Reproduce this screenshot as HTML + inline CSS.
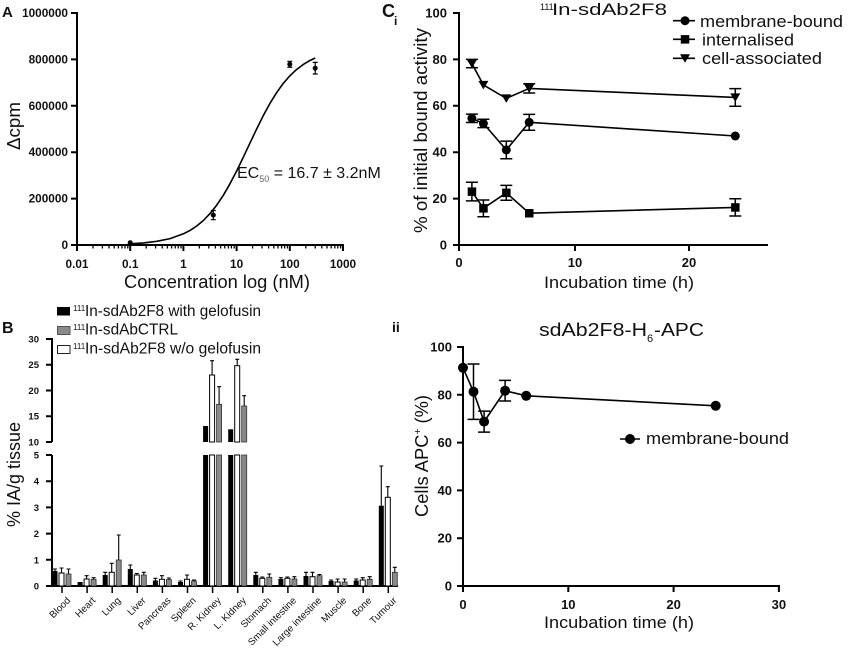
<!DOCTYPE html>
<html><head><meta charset="utf-8"><style>
html,body{margin:0;padding:0;background:#fff}
svg{display:block}
text{font-family:"Liberation Sans",Arial,sans-serif;fill:#111}
.b{font-weight:bold}
</style></head><body>
<svg width="853" height="650" viewBox="0 0 853 650" xmlns="http://www.w3.org/2000/svg">
<rect width="853" height="650" fill="#fff"/>

<!-- ============ PANEL A ============ -->
<text x="2" y="17" class="b" font-size="15">A</text>
<g stroke="#000" fill="none">
  <path stroke-width="2" d="M77,12V246M76,245H344"/>
  <path stroke-width="2" d="M71,245H77M71,198.6H77M71,152.2H77M71,105.8H77M71,59.4H77M71,13H77"/>
  <path stroke-width="2" d="M77,245V251M130.2,245V251M183.4,245V251M236.6,245V251M289.8,245V251M343,245V251"/>
  <path stroke-width="1.3" d="M93,245V248.5M102.4,245V248.5M109,245V248.5M114.2,245V248.5M118.4,245V248.5M122,245V248.5M125,245V248.5M127.8,245V248.5
  M146.2,245V248.5M155.6,245V248.5M162.2,245V248.5M167.4,245V248.5M171.6,245V248.5M175.2,245V248.5M178.2,245V248.5M181,245V248.5
  M199.4,245V248.5M208.8,245V248.5M215.4,245V248.5M220.6,245V248.5M224.8,245V248.5M228.4,245V248.5M231.4,245V248.5M234.2,245V248.5
  M252.6,245V248.5M262,245V248.5M268.6,245V248.5M273.8,245V248.5M278,245V248.5M281.6,245V248.5M284.6,245V248.5M287.4,245V248.5
  M305.8,245V248.5M315.2,245V248.5M321.8,245V248.5M327,245V248.5M331.2,245V248.5M334.8,245V248.5M337.8,245V248.5M340.6,245V248.5"/>
  <!-- curve -->
  <path stroke-width="1.6" stroke-linejoin="round" d="M130.2,243.8L143.5,242.9L156.8,241.3L170.1,238.6L183.4,233.8L190.05,230.4L196.7,226L203.35,220.5L210,213.6L216.65,205.2L223.3,195.3L229.95,183.8L236.6,171.1L243.25,157.3L249.9,143.2L256.55,129.2L263.2,115.8L269.85,103.6L276.5,92.8L283.15,83.5L289.8,75.9L296.45,69.6L303.1,64.6L309.75,60.6L315.2,58"/>
  <!-- error bars -->
  <path stroke-width="1.2" d="M213.3,210.5V219.7M210.8,210.5H215.8M210.8,219.7H215.8M289.8,61.3V67.3M287.3,61.3H292.3M287.3,67.3H292.3M315.2,62.4V74M312.7,62.4H317.7M312.7,74H317.7"/>
</g>
<g fill="#000">
  <circle cx="130.2" cy="242.7" r="2.5"/>
  <circle cx="213.3" cy="215.1" r="2.5"/>
  <circle cx="289.8" cy="64.3" r="2.5"/>
  <circle cx="315.2" cy="68.2" r="2.5"/>
</g>
<g class="b" font-size="11.8" text-anchor="end">
  <text x="68" y="249">0</text>
  <text x="68" y="202.6">200000</text>
  <text x="68" y="156.2">400000</text>
  <text x="68" y="109.8">600000</text>
  <text x="68" y="63.4">800000</text>
  <text x="68" y="17">1000000</text>
</g>
<g class="b" font-size="11.8" text-anchor="middle">
  <text x="77" y="268">0.01</text>
  <text x="130.2" y="268">0.1</text>
  <text x="183.4" y="268">1</text>
  <text x="236.6" y="268">10</text>
  <text x="289.8" y="268">100</text>
  <text x="343" y="268">1000</text>
</g>
<text x="124" y="288" font-size="18" textLength="186" lengthAdjust="spacingAndGlyphs">Concentration log (nM)</text>
<text transform="translate(20,126) rotate(-90)" text-anchor="middle" font-size="18" textLength="48" lengthAdjust="spacingAndGlyphs">Δcpm</text>
<text x="237" y="178" font-size="16">EC<tspan font-size="9" fill="#666" dy="4">50</tspan><tspan dy="-4"> = 16.7 ± 3.2nM</tspan></text>

<!-- ============ PANEL Ci ============ -->
<text x="382" y="17" class="b" font-size="18">C</text>
<text x="394" y="25" class="b" font-size="12">i</text>
<g stroke="#000" fill="none">
  <path stroke-width="2" d="M459,12V246M458,245H768"/>
  <path stroke-width="2" d="M453,245H459M453,198.6H459M453,152.2H459M453,105.8H459M453,59.4H459M453,13H459"/>
  <path stroke-width="2" d="M459,245V251M575,245V251M689,245V251"/>
  <!-- lines -->
  <path stroke-width="1.6" d="M471.9,63.6L483.4,84.9L506.3,98.4L529.2,88.4L735.3,97.4"/>
  <path stroke-width="1.6" d="M471.9,118.3L483.4,123.4L506.3,149.9L529.2,122.3L735.3,136"/>
  <path stroke-width="1.6" d="M471.9,191.6L483.4,208.3L506.3,192.8L529.2,213.2L735.3,207.4"/>
  <!-- error bars -->
  <path stroke-width="1.5" d="M471.9,59.4V67.8M465.9,59.4H477.9M465.9,67.8H477.9
  M529.2,83.8V93M523.2,83.8H535.2M523.2,93H535.2
  M735.3,88.6V106.2M729.3,88.6H741.3M729.3,106.2H741.3
  M471.9,114.1V122.5M465.9,114.1H477.9M465.9,122.5H477.9
  M483.4,119.2V127.6M477.4,119.2H489.4M477.4,127.6H489.4
  M506.3,141.1V158.7M500.3,141.1H512.3M500.3,158.7H512.3
  M529.2,114.4V130.2M523.2,114.4H535.2M523.2,130.2H535.2
  M471.9,182.3V200.9M465.9,182.3H477.9M465.9,200.9H477.9
  M483.4,200V216.7M477.4,200H489.4M477.4,216.7H489.4
  M506.3,185.4V200.2M500.3,185.4H512.3M500.3,200.2H512.3
  M735.3,198.8V216M729.3,198.8H741.3M729.3,216H741.3"/>
  <!-- legend lines -->
  <path stroke-width="1.6" d="M673,20.7H695M673,39.3H695M673,58.3H695"/>
</g>
<g fill="#000">
  <path d="M466.9,59.6H476.9L471.9,68.1Z"/>
  <path d="M478.4,80.9H488.4L483.4,89.4Z"/>
  <path d="M501.3,94.4H511.3L506.3,102.9Z"/>
  <path d="M524.2,84.4H534.2L529.2,92.9Z"/>
  <path d="M730.3,93.4H740.3L735.3,101.9Z"/>
  <path d="M680,54.3H690L685,62.8Z"/>
  <circle cx="471.9" cy="118.3" r="4.5"/>
  <circle cx="483.4" cy="123.4" r="4.5"/>
  <circle cx="506.3" cy="149.9" r="4.5"/>
  <circle cx="529.2" cy="122.3" r="4.5"/>
  <circle cx="735.3" cy="136" r="4.5"/>
  <circle cx="685" cy="20.7" r="4.5"/>
  <rect x="467.7" y="187.4" width="8.5" height="8.5"/>
  <rect x="479.2" y="204.1" width="8.5" height="8.5"/>
  <rect x="502.1" y="188.6" width="8.5" height="8.5"/>
  <rect x="525" y="209" width="8.5" height="8.5"/>
  <rect x="731.1" y="203.2" width="8.5" height="8.5"/>
  <rect x="680.8" y="35.1" width="8.5" height="8.5"/>
</g>
<g class="b" font-size="13" text-anchor="end">
  <text x="447" y="249.5">0</text>
  <text x="447" y="203">20</text>
  <text x="447" y="156.6">40</text>
  <text x="447" y="110.2">60</text>
  <text x="447" y="63.8">80</text>
  <text x="447" y="17.5">100</text>
</g>
<g class="b" font-size="13" text-anchor="middle">
  <text x="459" y="267">0</text>
  <text x="575" y="267">10</text>
  <text x="689" y="267">20</text>
</g>
<text x="540" y="10" font-size="9">111</text>
<text x="552" y="15" font-size="17" textLength="115" lengthAdjust="spacingAndGlyphs">In-sdAb2F8</text>
<text x="700" y="27" font-size="17" textLength="143" lengthAdjust="spacingAndGlyphs">membrane-bound</text>
<text x="702" y="45.5" font-size="17" textLength="92" lengthAdjust="spacingAndGlyphs">internalised</text>
<text x="702" y="64" font-size="17" textLength="120" lengthAdjust="spacingAndGlyphs">cell-associated</text>
<text transform="translate(427,130.5) rotate(-90)" text-anchor="middle" font-size="18" textLength="205" lengthAdjust="spacingAndGlyphs">% of initial bound activity</text>
<text x="544" y="288" font-size="17" textLength="150" lengthAdjust="spacingAndGlyphs">Incubation time (h)</text>

<!-- ============ PANEL B ============ -->
<text x="2" y="333" class="b" font-size="16">B</text>
<rect x="57" y="307" width="13" height="8.5" fill="#000"/>
<rect x="57.5" y="326.5" width="12.5" height="8" fill="#8a8a8a" stroke="#555" stroke-width="1"/>
<rect x="57.5" y="345.5" width="12.5" height="8" fill="#fff" stroke="#222" stroke-width="1"/>
<text x="73" y="311" font-size="8">111</text>
<text x="85" y="316" font-size="15.5" textLength="176" lengthAdjust="spacingAndGlyphs">In-sdAb2F8 with gelofusin</text>
<text x="73" y="330" font-size="8">111</text>
<text x="85" y="334.5" font-size="15.5" textLength="93" lengthAdjust="spacingAndGlyphs">In-sdAbCTRL</text>
<text x="73" y="349" font-size="8">111</text>
<text x="85" y="353.5" font-size="15.5" textLength="176" lengthAdjust="spacingAndGlyphs">In-sdAb2F8 w/o gelofusin</text>

<g stroke="#000" fill="none" stroke-width="2">
  <path d="M52,338V442M52,455V587M51,586H398"/>
  <path d="M46,339H52M46,364.75H52M46,390.5H52M46,416.25H52M46,442H52M46,455H52M46,481.2H52M46,507.4H52M46,533.6H52M46,559.8H52M46,586H52"/>
  <path stroke-width="1.5" d="M62,586V593M87.1,586V593M112.2,586V593M137.3,586V593M162.4,586V593M187.5,586V593M212.6,586V593M237.7,586V593M262.8,586V593M287.9,586V593M313,586V593M338.1,586V593M363.2,586V593M388.3,586V593"/>
</g>
<g class="b" font-size="9.5" text-anchor="end">
  <text x="39" y="342.5">30</text>
  <text x="39" y="368.2">25</text>
  <text x="39" y="394">20</text>
  <text x="39" y="419.7">15</text>
  <text x="39" y="445.5">10</text>
  <text x="39" y="458.5">5</text>
  <text x="39" y="484.7">4</text>
  <text x="39" y="510.9">3</text>
  <text x="39" y="537.1">2</text>
  <text x="39" y="563.3">1</text>
  <text x="39" y="589.5">0</text>
</g>
<g fill="#000">
  <rect x="52.5" y="571" width="5" height="15"/>
  <rect x="77.6" y="582" width="5" height="4"/>
  <rect x="102.7" y="575" width="5" height="11"/>
  <rect x="127.8" y="569" width="5" height="17"/>
  <rect x="152.9" y="580.5" width="5" height="5.5"/>
  <rect x="178" y="582" width="5" height="4"/>
  <rect x="203.1" y="455" width="5" height="131"/>
  <rect x="203.1" y="426" width="5" height="16"/>
  <rect x="228.2" y="455" width="5" height="131"/>
  <rect x="228.2" y="429.3" width="5" height="12.7"/>
  <rect x="253.3" y="575" width="5" height="11"/>
  <rect x="278.4" y="579" width="5" height="7"/>
  <rect x="303.5" y="576" width="5" height="10"/>
  <rect x="328.6" y="581" width="5" height="5"/>
  <rect x="353.7" y="580.5" width="5" height="5.5"/>
  <rect x="378.8" y="505.7" width="5" height="80.3"/>
</g>
<g fill="#fff" stroke="#000" stroke-width="1">
  <rect x="59" y="573" width="5" height="13"/>
  <rect x="84.1" y="579" width="5" height="7"/>
  <rect x="109.2" y="572.3" width="5" height="13.7"/>
  <rect x="134.3" y="575" width="5" height="11"/>
  <rect x="159.4" y="579.3" width="5" height="6.7"/>
  <rect x="184.5" y="579.3" width="5" height="6.7"/>
  <rect x="209.6" y="455" width="5" height="131"/>
  <rect x="209.6" y="375" width="5" height="67"/>
  <rect x="234.7" y="455" width="5" height="131"/>
  <rect x="234.7" y="365.7" width="5" height="76.3"/>
  <rect x="259.8" y="578.3" width="5" height="7.7"/>
  <rect x="284.9" y="578.3" width="5" height="7.7"/>
  <rect x="310" y="576.7" width="5" height="9.3"/>
  <rect x="335.1" y="582" width="5" height="4"/>
  <rect x="360.2" y="580" width="5" height="6"/>
  <rect x="385.3" y="497.3" width="5" height="88.7"/>
</g>
<g fill="#8a8a8a" stroke="#333" stroke-width="0.8">
  <rect x="66" y="574" width="5" height="12"/>
  <rect x="91.1" y="579.3" width="5" height="6.7"/>
  <rect x="116.2" y="560" width="5" height="26"/>
  <rect x="141.3" y="575" width="5" height="11"/>
  <rect x="166.4" y="579.5" width="5" height="6.5"/>
  <rect x="191.5" y="581" width="5" height="5"/>
  <rect x="216.6" y="455" width="5" height="131"/>
  <rect x="216.6" y="404.3" width="5" height="37.7"/>
  <rect x="241.7" y="455" width="5" height="131"/>
  <rect x="241.7" y="406" width="5" height="36"/>
  <rect x="266.8" y="577.3" width="5" height="8.7"/>
  <rect x="291.9" y="579" width="5" height="7"/>
  <rect x="317" y="575.7" width="5" height="10.3"/>
  <rect x="342.1" y="582" width="5" height="4"/>
  <rect x="367.2" y="579.3" width="5" height="6.7"/>
  <rect x="392.3" y="572.3" width="5" height="13.7"/>
</g>
<g stroke="#000" stroke-width="1.1" fill="none">
  <path d="M55,571V569M53,569H57M61.5,573V568M59.5,568H63.5M68.5,574V569M66.5,569H70.5
  M86.6,579V575.7M84.6,575.7H88.6M93.6,579.3V577.7M91.6,577.7H95.6
  M105.2,575V572.3M103.2,572.3H107.2M111.7,572.3V563.3M109.7,563.3H113.7M118.7,560V535M116.7,535H120.7
  M130.3,569V565M128.3,565H132.3M136.8,575V573.5M134.8,573.5H138.8M143.8,575V572.3M141.8,572.3H145.8
  M155.4,580.5V578.3M153.4,578.3H157.4M161.9,579.3V575.7M159.9,575.7H163.9M168.9,579.5V578M166.9,578H170.9
  M180.5,582V581M178.5,581H182.5M187,579.3V575M185,575H189M194,581V580M192,580H196
  M212.1,375V360.7M210.1,360.7H214.1M219.1,404.3V386.7M217.1,386.7H221.1
  M237.2,365.7V359.3M235.2,359.3H239.2M244.2,406V395.7M242.2,395.7H246.2
  M255.8,575V572.3M253.8,572.3H257.8M262.3,578.3V577M260.3,577H264.3M269.3,577.3V574M267.3,574H271.3
  M280.9,579V577.7M278.9,577.7H282.9M287.4,578.3V577M285.4,577H289.4M294.4,579V576.7M292.4,576.7H296.4
  M306,576V572.3M304,572.3H308M312.5,576.7V572.3M310.5,572.3H314.5M319.5,575.7V574.5M317.5,574.5H321.5
  M331.1,581V580M329.1,580H333.1M337.6,582V579M335.6,579H339.6M344.6,582V579M342.6,579H346.6
  M356.2,580.5V579M354.2,579H358.2M362.7,580V577.7M360.7,577.7H364.7M369.7,579.3V576.7M367.7,576.7H371.7
  M381.3,505.7V466M379.3,466H383.3M387.8,497.3V486.7M385.8,486.7H389.8M394.8,572.3V567.3M392.8,567.3H396.8"/>
</g>
<g font-size="9.8" text-anchor="end" style="fill:#222">
  <text transform="translate(71,601) rotate(-45)">Blood</text>
  <text transform="translate(96.1,601) rotate(-45)">Heart</text>
  <text transform="translate(121.2,601) rotate(-45)">Lung</text>
  <text transform="translate(146.3,601) rotate(-45)">Liver</text>
  <text transform="translate(171.4,601) rotate(-45)">Pancreas</text>
  <text transform="translate(196.5,601) rotate(-45)">Spleen</text>
  <text transform="translate(221.6,601) rotate(-45)">R. Kidney</text>
  <text transform="translate(246.7,601) rotate(-45)">L. Kidney</text>
  <text transform="translate(271.8,601) rotate(-45)">Stomach</text>
  <text transform="translate(296.9,601) rotate(-45)">Small intestine</text>
  <text transform="translate(322,601) rotate(-45)">Large intestine</text>
  <text transform="translate(347.1,601) rotate(-45)">Muscle</text>
  <text transform="translate(372.2,601) rotate(-45)">Bone</text>
  <text transform="translate(397.3,601) rotate(-45)">Tumour</text>
</g>
<text transform="translate(20,474.5) rotate(-90)" text-anchor="middle" font-size="18" textLength="105" lengthAdjust="spacingAndGlyphs">% IA/g tissue</text>

<!-- ============ PANEL Cii ============ -->
<text x="392" y="332" class="b" font-size="14">ii</text>
<g stroke="#000" fill="none">
  <path stroke-width="2" d="M463,346V587M462,586H780"/>
  <path stroke-width="2" d="M457,586H463M457,538.2H463M457,490.4H463M457,442.6H463M457,394.8H463M457,347H463"/>
  <path stroke-width="2" d="M463,586V592M568.3,586V592M673.6,586V592M778.9,586V592"/>
  <path stroke-width="1.6" d="M463,367.8L473.5,391.7L484.1,421.6L505.1,390.7L526.2,395.8L715.7,405.8"/>
  <path stroke-width="1.5" d="M473.5,364V419.4M467.5,364H479.5M467.5,419.4H479.5
  M484.1,411.1V432.1M478.1,411.1H490.1M478.1,432.1H490.1
  M505.1,380.4V401M499.1,380.4H511.1M499.1,401H511.1"/>
  <path stroke-width="1.6" d="M620,439H640"/>
</g>
<g fill="#000">
  <circle cx="463" cy="367.8" r="5"/>
  <circle cx="473.5" cy="391.7" r="5"/>
  <circle cx="484.1" cy="421.6" r="5"/>
  <circle cx="505.1" cy="390.7" r="5"/>
  <circle cx="526.2" cy="395.8" r="5"/>
  <circle cx="715.7" cy="405.8" r="5"/>
  <circle cx="630" cy="439" r="5"/>
</g>
<g class="b" font-size="13" text-anchor="end">
  <text x="452" y="590.5">0</text>
  <text x="452" y="542.7">20</text>
  <text x="452" y="494.9">40</text>
  <text x="452" y="447.1">60</text>
  <text x="452" y="399.3">80</text>
  <text x="452" y="351.5">100</text>
</g>
<g class="b" font-size="13" text-anchor="middle">
  <text x="463" y="609">0</text>
  <text x="568.3" y="609">10</text>
  <text x="673.6" y="609">20</text>
  <text x="778.9" y="609">30</text>
</g>
<text x="539" y="336" font-size="18" textLength="108" lengthAdjust="spacingAndGlyphs">sdAb2F8-H</text>
<text x="647" y="342" font-size="11">6</text>
<text x="654" y="336" font-size="18" textLength="50" lengthAdjust="spacingAndGlyphs">-APC</text>
<text x="646" y="444" font-size="17" textLength="143" lengthAdjust="spacingAndGlyphs">membrane-bound</text>
<text transform="translate(428,456) rotate(-90)" text-anchor="middle" font-size="18" textLength="122" lengthAdjust="spacingAndGlyphs">Cells APC<tspan font-size="10" dy="-7">+</tspan><tspan dy="7"> (%)</tspan></text>
<text x="544" y="628" font-size="17" textLength="150" lengthAdjust="spacingAndGlyphs">Incubation time (h)</text>
</svg>
</body></html>
